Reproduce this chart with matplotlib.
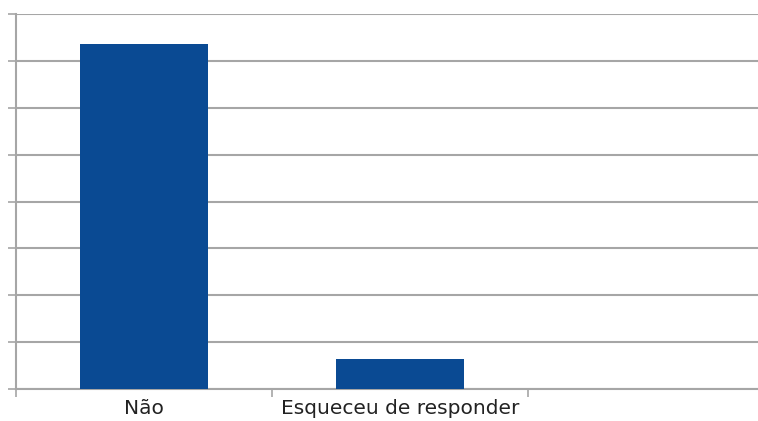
import matplotlib.pyplot as plt
from matplotlib.ticker import MultipleLocator, FixedLocator

# --- data ---
categories = ["Não", "Esqueceu de responder", ""]
values = [92, 8, 0]

bar_color = "#0a4a93"
grid_color = "#a6a6a6"

fig = plt.figure(figsize=(7.58, 4.21), dpi=100)
# axes run off the right edge, like the cropped original
ax = fig.add_axes([16 / 758, 32 / 421, 768 / 758, 375 / 421])

x = list(range(len(categories)))
ax.bar(x[:2], values[:2], width=0.5, color=bar_color, zorder=3)

ax.set_xlim(-0.5, 2.5)
ax.set_ylim(0, 100)

# y axis: gridlines, tick marks, no labels
ax.yaxis.set_major_locator(MultipleLocator(12.5))
ax.yaxis.grid(True, color=grid_color, linewidth=1.5, zorder=0)
ax.tick_params(axis="y", length=6, width=1.2, color=grid_color, labelleft=False)

# x axis: labels at centres, tick marks at category borders
ax.set_xticks(x[:2])
ax.set_xticklabels(categories[:2], fontsize=14.5, color="#222222")
ax.tick_params(axis="x", which="major", length=0, pad=7)
ax.xaxis.set_minor_locator(FixedLocator([-0.5, 0.5, 1.5]))
ax.tick_params(axis="x", which="minor", length=6, width=1.2, color=grid_color)

for side in ["top", "right"]:
    ax.spines[side].set_visible(False)
for side in ["left", "bottom"]:
    ax.spines[side].set_color(grid_color)
    ax.spines[side].set_linewidth(1.5)

fig.savefig("out.png", dpi=100)
